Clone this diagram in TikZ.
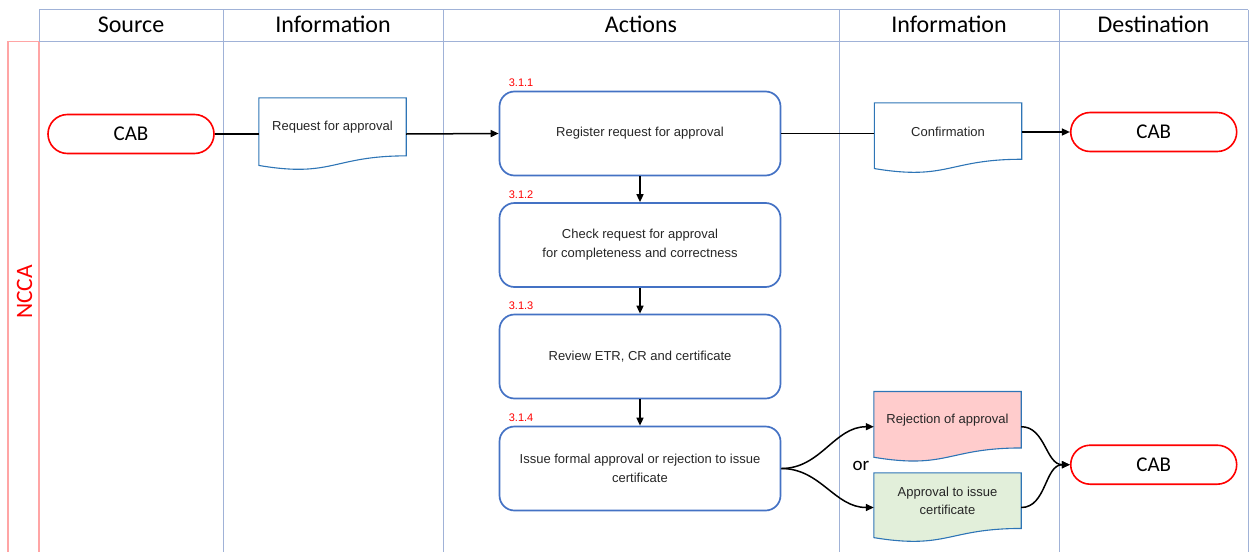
\documentclass[tikz,border=0pt]{standalone}
\usepackage{fontspec}
\setmainfont{Liberation Sans}
\newfontfamily\calibri{Carlito}
\usetikzlibrary{arrows.meta,calc,backgrounds}

\definecolor{lanecol}{RGB}{160,178,215}
\definecolor{poolcol}{RGB}{255,165,165}
\definecolor{boxcol}{RGB}{68,114,196}
\definecolor{doccol}{RGB}{46,117,182}
\definecolor{rejfill}{RGB}{255,204,204}
\definecolor{apprfill}{RGB}{226,239,218}
\definecolor{txtcol}{RGB}{38,38,38}

% outline of a document symbol with a wavy lower edge
\newcommand\docoutline[2]{%
  \draw[docline,fill=#2] (#1.north west) -- (#1.north east)
    -- ($(#1.north east)!0.802!(#1.south east)$)
    .. controls ($(#1.north)!0.802!(#1.south)$) and ($(#1.north)!1.108!(#1.south)$)
    .. ($(#1.north west)!0.934!(#1.south west)$) -- cycle;}

\tikzset{
  lane/.style={draw=lanecol, line width=1pt},
  pool/.style={draw=poolcol, line width=1.3pt},
  header/.style={font=\calibri\fontsize{24}{28}\selectfont, anchor=base},
  terminal/.style={draw=red, line width=1.6pt, rounded corners=19.5pt,
    minimum width=166pt, minimum height=39pt, inner sep=0pt,
    font=\calibri\fontsize{21}{24}\selectfont},
  process/.style={draw=boxcol, line width=1.7pt, rounded corners=15pt,
    minimum width=281pt, minimum height=84pt, inner sep=0pt, align=center,
    text=txtcol, font=\fontsize{13}{19}\selectfont},
  docnode/.style={minimum width=147pt, minimum height=70pt, inner sep=0pt},
  doctext/.style={text=txtcol, align=center, yshift=6.5pt,
    font=\fontsize{13}{18}\selectfont},
  docline/.style={draw=doccol, line width=1.1pt},
  steplbl/.style={text=red, anchor=base west, inner sep=0pt,
    font=\fontsize{11}{13}\selectfont},
  conn/.style={line width=1.5pt},
  arr/.style={conn, -{Triangle[length=8pt,width=7pt]}},
}

\begin{document}
\begin{tikzpicture}[x=1pt, y=-1pt]
\useasboundingbox (0,0) rectangle (1254,552);

% pool and swimlane grid
\draw[pool] (39,41.3) -- (8,41.3) -- (8,552);
\draw[pool] (39,41.3) -- (39,552);
\draw[lane] (39,9.7) -- (1248,9.7);
\draw[lane] (39,41.3) -- (1248,41.3);
\draw[lane] (39,9.7) -- (39,41.3);
\foreach \x in {223,443,839,1059,1248}
  \draw[lane] (\x,9.7) -- (\x,552);

% column headings
\node[header] (hsrc) at (131,32.3) {Source};
\node[header] (hinf1) at (333,32.3) {Information};
\node[header] (hact) at (641,32.3) {Actions};
\node[header] (hinf2) at (949,32.3) {Information};
\node[header] (hdst) at (1153.5,32.3) {Destination};

% pool name
\node[text=red, rotate=90, font=\calibri\fontsize{23.5}{26}\selectfont] (ncca) at (24.5,292) {NCCA};

% terminals
\node[terminal] (cab1) at (131,134) {CAB};
\node[terminal] (cab2) at (1153.7,132) {CAB};
\node[terminal] (cab3) at (1153.7,464.7) {CAB};

% process steps
\node[process] (box1) at (640,133.5) {Register request for approval};
\node[process] (box2) at (640,245) {Check request for approval\\for completeness  and correctness};
\node[process] (box3) at (640,356.5) {Review ETR, CR and certificate};
\node[process] (box4) at (640,468.5) {Issue formal approval  or rejection to issue\\certificate};

\node[steplbl] (s1) at ([xshift=10pt,yshift=3.7pt]box1.north west) {3.1.1};
\node[steplbl] (s2) at ([xshift=10pt,yshift=3.7pt]box2.north west) {3.1.2};
\node[steplbl] (s3) at ([xshift=10pt,yshift=3.7pt]box3.north west) {3.1.3};
\node[steplbl] (s4) at ([xshift=10pt,yshift=3.7pt]box4.north west) {3.1.4};

% documents
\node[docnode, minimum height=72pt, label={[doctext]center:Request for approval}] (req) at (332.5,134) {};
\node[docnode, label={[doctext]center:Confirmation}] (conf) at (948,138) {};
\node[docnode, label={[doctext]center:Rejection of approval}] (rej) at (947.5,426.7) {};
\node[docnode, minimum height=69pt, label={[doctext]center:Approval  to issue\\certificate}] (appr) at (947.5,507.5) {};

\begin{scope}[on background layer]
  \docoutline{req}{white}
  \docoutline{conf}{white}
  \docoutline{rej}{rejfill}
  \docoutline{appr}{apprfill}
\end{scope}

\node[font=\calibri\fontsize{19}{22}\selectfont] (or) at (861,466) {or};

% connectors
\draw[conn] (cab1.east) -- (req.west);
\draw[arr] (req.east) -- (box1.west);
\draw[conn] (box1.east) -- (box1.east -| conf.west);
\draw[arr] (conf.east |- cab2.west) -- (cab2.west);
\draw[arr] (box1.south) -- (box2.north);
\draw[arr] (box2.south) -- (box3.north);
\draw[arr] (box3.south) -- (box4.north);
\draw[arr] (box4.east) to[out=0,in=180] (rej.west);
\draw[arr] (box4.east) to[out=0,in=180] (appr.west);
\draw[arr] (rej.east) to[out=0,in=180] (cab3.west);
\draw[arr] (appr.east) to[out=0,in=180] (cab3.west);
\end{tikzpicture}
\end{document}
